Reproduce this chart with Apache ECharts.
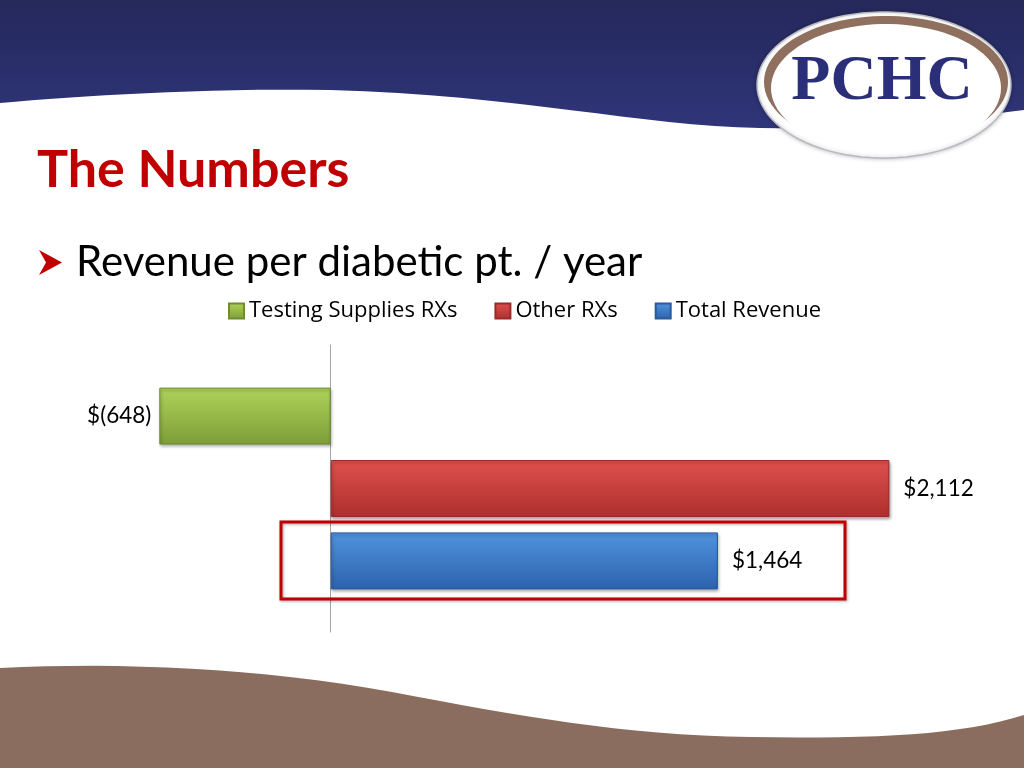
<!DOCTYPE html>
<html>
<head>
<meta charset="utf-8">
<title>The Numbers</title>
<script src="https://cdn.jsdelivr.net/npm/echarts@6/dist/echarts.min.js"></script>
<style>
  html, body { margin: 0; padding: 0; background: #fff; }
  #main { width: 1024px; height: 768px; }
</style>
</head>
<body>
<div id="main"></div>
<script>
    // data
    let categories = ['Revenue per diabetic pt. / year'];
    let seriesNames = ['Testing Supplies RXs', 'Other RXs', 'Total Revenue'];
    let testingSupplies = [-648];
    let otherRx = [2112];
    let totalRevenue = [1464];

    let myChart = echarts.init(document.getElementById('main'));

    // $(648) for negatives, $2,112 for positives
    function money(v) {
        if (v < 0) return '$(' + Math.abs(v).toLocaleString('en-US') + ')';
        return '$' + v.toLocaleString('en-US');
    }

    function grad(top, bottom) {
        return {
            type: 'linear', x: 0, y: 0, x2: 0, y2: 1,
            colorStops: [
                {offset: 0, color: top},
                {offset: 1, color: bottom}
            ]
        };
    }

    // outline helpers for the slide decoration (waves, logo)
    function curve(start, segs) {
        let pts = [start];
        let p = start;
        segs.forEach(function (s) {
            for (let i = 1; i <= 16; i++) {
                let t = i / 16, u = 1 - t;
                pts.push([
                    u*u*u*p[0] + 3*u*u*t*s[0][0] + 3*u*t*t*s[1][0] + t*t*t*s[2][0],
                    u*u*u*p[1] + 3*u*u*t*s[0][1] + 3*u*t*t*s[1][1] + t*t*t*s[2][1]
                ]);
            }
            p = s[2];
        });
        return pts;
    }
    function oval(cx, cy, rx, ry) {
        let pts = [];
        for (let i = 0; i < 90; i++) {
            let a = i / 90 * Math.PI * 2;
            pts.push([cx + rx * Math.cos(a), cy + ry * Math.sin(a)]);
        }
        return pts;
    }

    let headerPts = [[0, 0], [1024, 0]].concat(curve([1024, 110], [
        [[960, 118], [860, 130], [760, 128]],
        [[640, 126], [520, 95], [330, 90]],
        [[200, 88], [80, 96], [0, 103]]
    ]));
    let footerPts = curve([0, 668], [
        [[120, 662], [260, 668], [392, 692]],
        [[520, 716], [620, 735], [751, 737]],
        [[880, 739], [960, 735], [1024, 715]]
    ]).concat([[1024, 768], [0, 768]]);

    function barSeries(name, data, top, bottom, border, pos) {
        return {
            name: name,
            type: 'bar',
            data: data,
            barWidth: 57,
            barGap: '27%',
            itemStyle: {
                color: grad(top, bottom),
                borderColor: border,
                borderWidth: 1,
                shadowBlur: 3,
                shadowOffsetX: 1,
                shadowOffsetY: 2,
                shadowColor: 'rgba(0,0,0,0.35)'
            },
            label: {
                show: true,
                position: pos,
                distance: pos === 'left' ? 8 : 14,
                fontFamily: 'Lato',
                fontSize: 22.5,
                color: '#000',
                formatter: function (p) { return money(p.value); }
            }
        };
    }

    let option = {
        animation: false,
        backgroundColor: '#fff',
        textStyle: {fontFamily: 'Lato'},
        graphic: [
            // header wave
            {
                type: 'polygon', z: 0,
                shape: {points: headerPts},
                style: {fill: grad('#25285b', '#2f3579')}
            },
            // footer wave
            {
                type: 'polygon', z: 0,
                shape: {points: footerPts},
                style: {fill: '#8a6d5e'}
            },
            // logo
            {
                type: 'polygon', z: 1,
                shape: {points: oval(884, 85, 127, 73)},
                style: {fill: '#fff', stroke: '#b9b9c2', lineWidth: 1.5, shadowBlur: 4, shadowColor: 'rgba(0,0,0,0.25)'}
            },
            {
                type: 'polygon', z: 2,
                shape: {points: oval(886, 82, 122, 66)},
                style: {fill: '#8f6f5d'}
            },
            {
                type: 'polygon', z: 3,
                shape: {points: oval(886, 88, 115, 64)},
                style: {fill: '#fff'}
            },
            {
                type: 'text', z: 4,
                style: {
                    x: 882, y: 82, text: 'PCHC',
                    font: 'bold 64px "Liberation Serif"',
                    fill: '#2b2f7a', align: 'center', verticalAlign: 'middle'
                }
            },
            // title
            {
                type: 'text', z: 4,
                style: {
                    x: 37, y: 170, text: 'The Numbers',
                    font: 'bold 52px Lato',
                    fill: '#c00000', verticalAlign: 'middle'
                }
            },
            // bullet arrowhead
            {
                type: 'polygon', z: 4,
                shape: {points: [[39, 250], [62, 262.5], [39, 275], [46, 262.5]]},
                style: {fill: '#c00000'}
            },
            {
                type: 'text', z: 4,
                style: {
                    x: 76, y: 262, text: 'Revenue per diabetic pt. / year',
                    font: '42px Lato',
                    fill: '#000', verticalAlign: 'middle'
                }
            },
            // highlight box round Total Revenue
            {
                type: 'rect', z: 10,
                shape: {x: 281, y: 522, width: 564, height: 77},
                style: {
                    fill: 'none', stroke: '#c00000', lineWidth: 3,
                    shadowBlur: 3, shadowOffsetX: 1, shadowOffsetY: 1, shadowColor: 'rgba(0,0,0,0.35)'
                }
            }
        ],
        legend: {
            data: seriesNames,
            left: 228,
            top: 300,
            padding: 0,
            icon: 'rect',
            itemWidth: 15,
            itemHeight: 15,
            itemGap: 37,
            textStyle: {fontFamily: 'Open Sans', fontSize: 22, color: '#000'}
        },
        grid: {
            left: 66.2,
            right: 32,
            top: 345,
            bottom: 136
        },
        xAxis: {
            type: 'value',
            min: -1000,
            max: 2500,
            show: false,
            splitLine: {show: false}
        },
        yAxis: {
            type: 'category',
            data: categories,
            inverse: true,
            axisLine: {show: true, lineStyle: {color: '#a6a6a6', width: 1}},
            axisTick: {show: false},
            axisLabel: {show: false},
            splitLine: {show: false}
        },
        series: [
            barSeries(seriesNames[0], testingSupplies, '#aed35a', '#7e9d38', '#6f8b33', 'left'),
            barSeries(seriesNames[1], otherRx, '#df504d', '#ad2f2e', '#9a2a29', 'right'),
            barSeries(seriesNames[2], totalRevenue, '#5193de', '#2c62ad', '#2a5a9c', 'right')
        ]
    };

    myChart.setOption(option);
</script>
</body>
</html>
